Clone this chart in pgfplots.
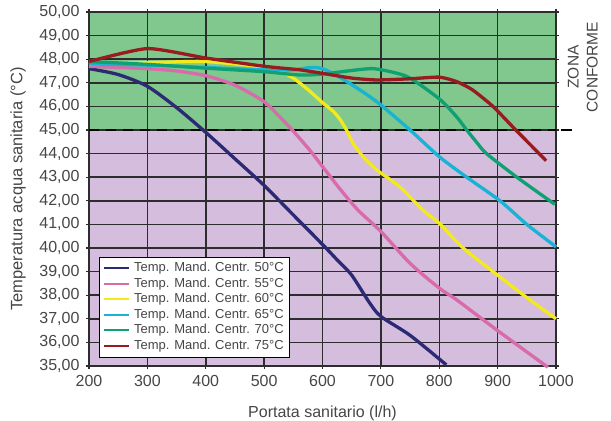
\documentclass[border=0pt]{standalone}
\usepackage{fontspec}
\setmainfont{Liberation Sans}
\usepackage{pgfplots}
\pgfplotsset{compat=1.18}
\definecolor{zgreen}{RGB}{128,200,141}
\definecolor{zpurple}{RGB}{212,189,221}
\definecolor{gridc}{RGB}{45,45,45}
\definecolor{txt}{RGB}{70,70,70}
\definecolor{cA}{RGB}{44,42,114}
\definecolor{cB}{RGB}{217,107,170}
\definecolor{cC}{RGB}{243,234,29}
\definecolor{cD}{RGB}{25,180,211}
\definecolor{cE}{RGB}{17,160,113}
\definecolor{cF}{RGB}{152,27,31}
\begin{document}
\begin{tikzpicture}
\useasboundingbox (-89bp,-55bp) rectangle (522bp,366bp);
\begin{axis}[
  scale only axis, width=467bp, height=354bp,
  xmin=200, xmax=1000, ymin=35, ymax=50,
  xtick={200,300,...,1000}, ytick={35,36,...,50},
  axis background/.style={fill=zpurple, path picture={\fill[zgreen] (path picture bounding box.north west) rectangle ([yshift=-118bp]path picture bounding box.north east);}},
  grid=major, grid style={gridc, line width=1.5bp},
  axis line style={gridc, line width=1.5bp},
  tick style={gridc, line width=1.2bp}, tick align=outside, major tick length=3bp,
  clip=false,
  font=\fontsize{16bp}{19bp}\selectfont,
  ticklabel style={text=txt},
  /pgf/number format/assume math mode=true,
  yticklabel style={xshift=-3bp, /pgf/number format/fixed, /pgf/number format/fixed zerofill, /pgf/number format/precision=2, /pgf/number format/use comma},
  xticklabel style={yshift=-3bp, /pgf/number format/1000 sep={}},
  xlabel={Portata sanitario (l/h)},
  ylabel={Temperatura acqua sanitaria (°C)},
  xlabel style={at={(axis description cs:0.5,-0.133)}, anchor=center, text=txt},
  ylabel style={at={(axis description cs:-0.152,0.5)}, anchor=center, text=txt, font=\fontsize{16.5bp}{19bp}\selectfont},
  legend style={at={(axis description cs:0.021,0.023)}, anchor=south west, draw=black, line width=1.3bp, fill=white,
    font=\fontsize{13bp}{15bp}\selectfont, text=txt, inner xsep=4bp, inner ysep=3.5bp, column sep=2bp,
    nodes={inner sep=1.6bp, text height=9.6bp, text depth=2.7bp}},
  legend cell align=left,
  legend image code/.code={\draw[#1, line width=2bp] (0bp,0bp) -- (25bp,0bp);},
]
\addplot[black, line width=1.6bp, dash pattern=on 10bp off 7bp, forget plot] coordinates {(200,45) (1000,45)};
\addplot[black, line width=1.6bp, forget plot] coordinates {(1008,45) (1027,45)};

\addplot[cA, line width=3.3bp, smooth, tension=0.45] coordinates {
(200,47.6) (250,47.35) (300,46.85) (350,45.95) (400,44.9) (450,43.78) (500,42.65) (550,41.4) (600,40.15) (625,39.5) (650,38.85) (680,37.7) (700,37.1) (750,36.3) (812,35.05)};
\addlegendentry{Temp. Mand. Centr. 50°C}
\addplot[cB, line width=3.3bp, smooth, tension=0.45] coordinates {
(200,47.7) (250,47.65) (300,47.6) (350,47.5) (400,47.3) (450,46.9) (500,46.2) (525,45.6) (550,44.95) (578,44.15) (600,43.45) (630,42.5) (661,41.6) (700,40.7) (750,39.35) (800,38.3) (830,37.8) (900,36.5) (986,34.95)};
\addlegendentry{Temp. Mand. Centr. 55°C}
\addplot[cC, line width=3.3bp, smooth, tension=0.45] coordinates {
(200,47.8) (300,47.85) (367,47.9) (400,47.9) (450,47.8) (500,47.65) (530,47.45) (550,47.2) (578,46.65) (601,46.14) (618,45.8) (630,45.45) (641,45.0) (652,44.45) (670,43.86) (693,43.31) (733,42.58) (772,41.6) (800,41.05) (841,40.0) (900,38.85) (950,37.9) (1000,37.0)};
\addlegendentry{Temp. Mand. Centr. 60°C}
\addplot[cD, line width=3.3bp, smooth, tension=0.45] coordinates {
(200,47.8) (300,47.75) (400,47.65) (500,47.55) (550,47.55) (580,47.65) (600,47.6) (625,47.3) (642,47.05) (670,46.6) (698,46.1) (750,45.0) (801,43.85) (847,43.0) (904,42.0) (950,41.0) (1000,40.05)};
\addlegendentry{Temp. Mand. Centr. 65°C}
\addplot[cE, line width=3.3bp, smooth, tension=0.45] coordinates {
(200,47.9) (300,47.78) (400,47.62) (500,47.47) (561,47.33) (601,47.37) (630,47.46) (660,47.55) (687,47.6) (720,47.45) (750,47.2) (801,46.3) (830,45.55) (847,45.0) (865,44.45) (881,44.0) (933,43.0) (998,41.85)};
\addlegendentry{Temp. Mand. Centr. 70°C}
\addplot[cF, line width=3.3bp, smooth, tension=0.35] coordinates {
(200,47.9) (300,48.45) (400,48.05) (500,47.7) (561,47.55) (600,47.4) (650,47.2) (693,47.12) (750,47.17) (800,47.24) (830,47.05) (857,46.7) (892,46.0) (926,45.13) (983,43.7)};
\addlegendentry{Temp. Mand. Centr. 75°C}

\node[rotate=90, align=center, text=txt, font=\fontsize{15.5bp}{19bp}\selectfont] at (axis cs:1046,47.67) {ZONA\\CONFORME};
\end{axis}
\end{tikzpicture}
\end{document}
